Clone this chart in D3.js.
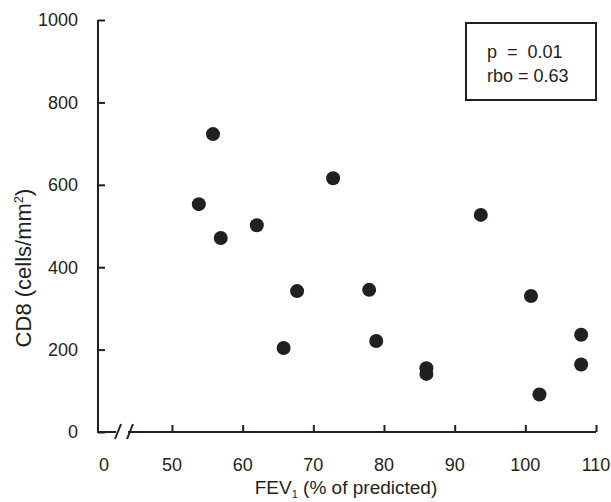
<!DOCTYPE html>
<html>
<head>
<meta charset="utf-8">
<script src="https://cdn.jsdelivr.net/npm/d3@7"></script>
<style>
  body { margin: 0; background: #fff; }
  text { font-family: "Liberation Sans", Arial, sans-serif; fill: #231f20; }
</style>
</head>
<body>
<div id="chart"></div>
<script>
var fev = [53.8, 55.8, 56.9, 62.0, 65.8, 67.7, 72.8, 77.9, 78.9, 86.0, 86.0, 93.7, 100.8, 102.0, 107.9, 107.9];
var cd8 = [553, 723, 471, 502, 204, 342, 616, 345, 221, 155, 141, 527, 330, 91, 236, 164];
var xTicks = [50, 60, 70, 80, 90, 100, 110];
var yTicks = [0, 200, 400, 600, 800, 1000];
var statLines = ["p  =  0.01", "rbo = 0.63"];

var svg = d3.select("#chart").append("svg")
    .attr("width", 611)
    .attr("height", 502);

var x0 = 98;
var x = d3.scaleLinear().domain([50, 110]).range([172, 596]);
var y = d3.scaleLinear().domain([0, 1000]).range([432, 20]);

//////////// Y AXIS ////////////
var yAxis = svg.append("g")
    .attr("transform", "translate(" + x0 + ",0)")
    .call(d3.axisRight(y).tickValues(yTicks).tickSize(7).tickFormat(""));
yAxis.select(".domain").attr("d", "M0," + y(1000) + "V" + y(0));
yAxis.selectAll("line, path").attr("stroke", "#231f20").attr("stroke-width", 2);

svg.selectAll("text.ytick")
    .data(yTicks)
    .enter().append("text")
    .attr("class", "ytick")
    .attr("x", 78)
    .attr("y", function(d) { return y(d); })
    .attr("dy", "0.35em")
    .attr("text-anchor", "end")
    .style("font-size", "18px")
    .text(function(d) { return d; });

//////////// X AXIS (with break) ////////////
var xAxis = svg.append("g")
    .attr("transform", "translate(0," + y(0) + ")")
    .call(d3.axisTop(x).tickValues(xTicks).tickSize(7).tickFormat(""));
xAxis.select(".domain").remove();
xAxis.selectAll("line").attr("stroke", "#231f20").attr("stroke-width", 2);

var ax = svg.append("g").attr("stroke", "#231f20").attr("stroke-width", 2).attr("fill", "none");
ax.append("path").attr("d", "M" + (x0 - 1) + "," + y(0) + "H116");
ax.append("path").attr("d", "M128," + y(0) + "H" + x(110));
ax.append("path").attr("d", "M115,439L121,424");
ax.append("path").attr("d", "M127,439L133,424");

svg.selectAll("text.xtick")
    .data(xTicks)
    .enter().append("text")
    .attr("class", "xtick")
    .attr("x", function(d) { return x(d); })
    .attr("y", 471)
    .attr("text-anchor", "middle")
    .style("font-size", "18px")
    .text(function(d) { return d; });

svg.append("text")
    .attr("x", 104)
    .attr("y", 471)
    .attr("text-anchor", "middle")
    .style("font-size", "18px")
    .text("0");

//////////// TITLES ////////////
var xt = svg.append("text")
    .attr("x", 346)
    .attr("y", 494)
    .attr("text-anchor", "middle")
    .style("font-size", "19px");
xt.append("tspan").text("FEV");
xt.append("tspan").attr("dy", 4).style("font-size", "11px").text("1");
xt.append("tspan").attr("dy", -4).text(" (% of predicted)");

var yt = svg.append("text")
    .attr("transform", "translate(31,268) rotate(-90)")
    .attr("text-anchor", "middle")
    .style("font-size", "22px");
yt.append("tspan").text("CD8 (cells/mm");
yt.append("tspan").attr("dy", -8).style("font-size", "13px").text("2");
yt.append("tspan").attr("dy", 8).text(")");

//////////// POINTS ////////////
svg.selectAll("circle.pt")
    .data(fev)
    .enter().append("circle")
    .attr("class", "pt")
    .attr("cx", function(d) { return x(d); })
    .attr("cy", function(d, i) { return y(cd8[i]); })
    .attr("r", 7)
    .attr("fill", "#231f20");

//////////// STAT BOX ////////////
svg.append("rect")
    .attr("x", 466)
    .attr("y", 23)
    .attr("width", 130)
    .attr("height", 77)
    .attr("fill", "#fff")
    .attr("stroke", "#231f20")
    .attr("stroke-width", 2);

svg.selectAll("text.stat")
    .data(statLines)
    .enter().append("text")
    .attr("class", "stat")
    .attr("x", 487)
    .attr("y", function(d, i) { return 58 + i * 24; })
    .style("font-size", "18px")
    .style("white-space", "pre")
    .text(function(d) { return d; });
</script>
</body>
</html>
